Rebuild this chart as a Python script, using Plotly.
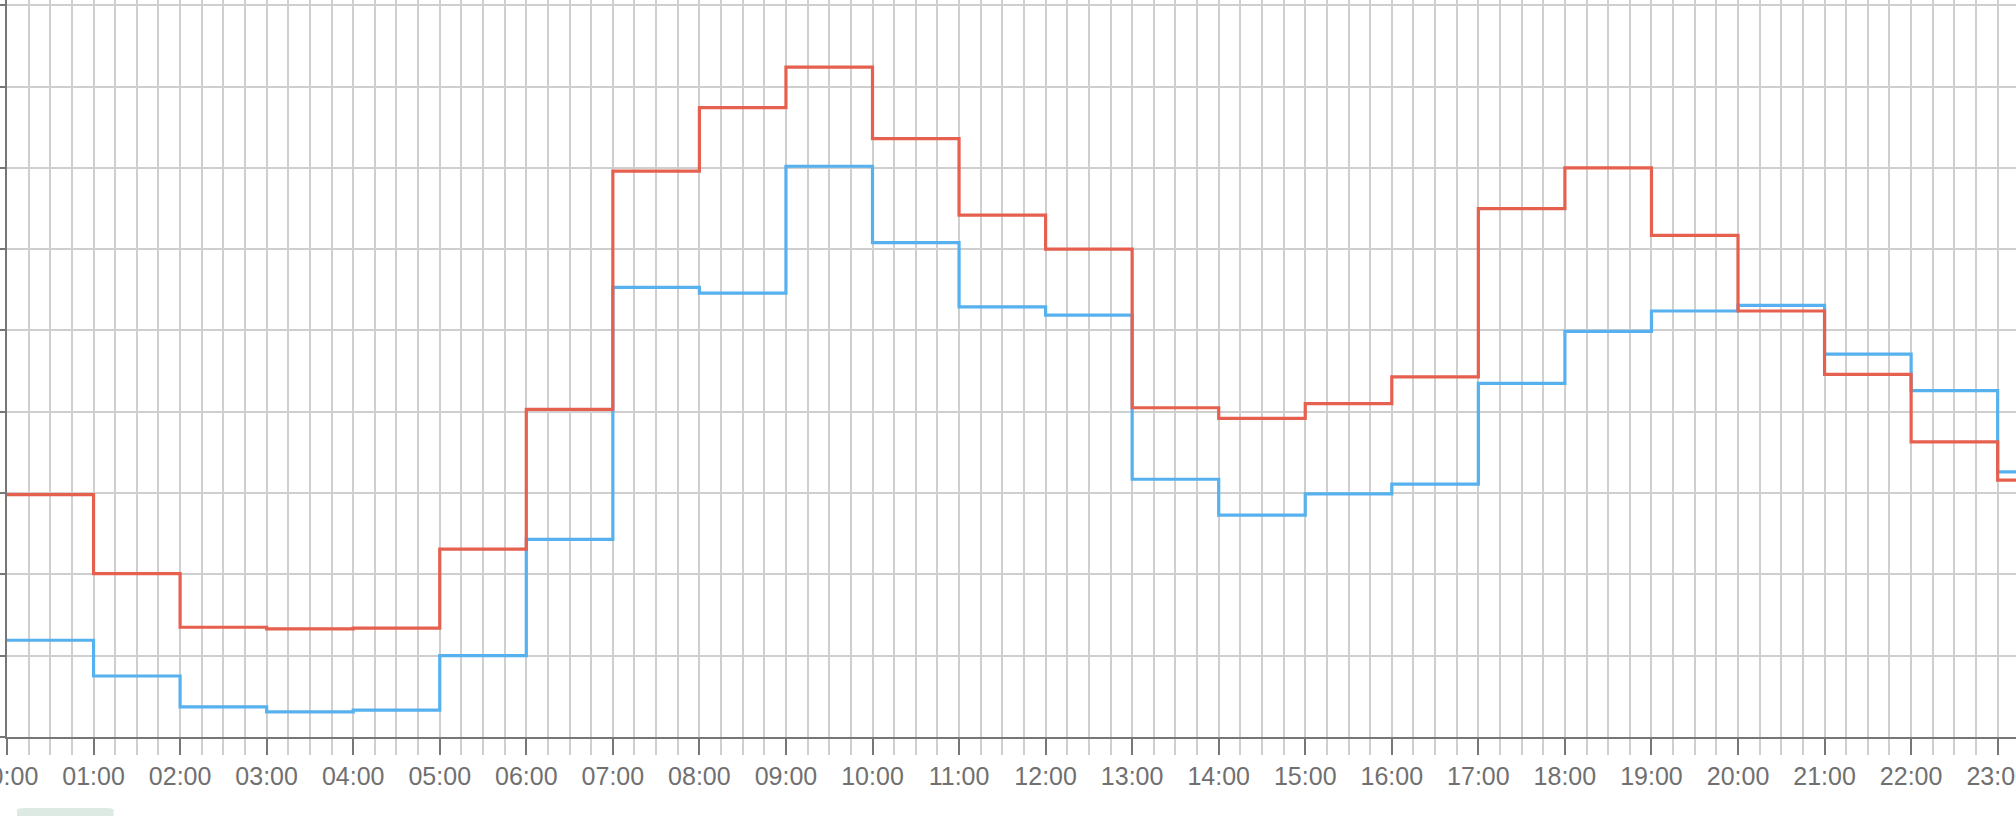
import pandas as pd
import plotly.graph_objects as go

# hourly buckets (start of each hour) plus the closing edge of the last bucket
hours = [f"{h:02d}:00" for h in range(24)]
day = "2024-01-01"
end_edge = "2024-01-02 00:00"

red_values = [29.8, 20.1, 13.5, 13.3, 13.4, 23.1, 40.3, 69.6, 77.4, 82.4, 73.6, 64.2,
              60.0, 40.5, 39.2, 41.0, 44.3, 65.0, 70.0, 61.7, 52.4, 44.6, 36.3, 31.6]
blue_values = [11.9, 7.5, 3.7, 3.1, 3.3, 10.0, 24.3, 55.3, 54.6, 70.2, 60.8, 52.9,
               51.9, 31.7, 27.3, 29.9, 31.1, 43.5, 49.9, 52.4, 53.1, 47.1, 42.6, 32.6]

x = list(pd.to_datetime([f"{day} {h}" for h in hours])) + [pd.Timestamp(end_edge)]

RED = "#E5604F"
BLUE = "#57B1EE"
GRID = "#CFCFCF"
AXIS = "#777777"

fig = go.Figure()

# blue first so the red line sits on top where they overlap
fig.add_trace(go.Scatter(
    x=x, y=blue_values + [blue_values[-1]],
    mode="lines", line=dict(color=BLUE, width=3.2, shape="hv"),
    name="B", hovertemplate="%{x|%H:%M}<br>%{y}<extra></extra>",
))
fig.add_trace(go.Scatter(
    x=x, y=red_values + [red_values[-1]],
    mode="lines", line=dict(color=RED, width=3.2, shape="hv"),
    name="A", hovertemplate="%{x|%H:%M}<br>%{y}<extra></extra>",
))

fig.update_layout(
    width=2016,
    height=816,
    margin=dict(l=7, r=0, t=0, b=79, autoexpand=False),
    plot_bgcolor="white",
    paper_bgcolor="white",
    showlegend=False,
    font=dict(family="Liberation Sans, Arial, sans-serif", color="#707070", size=25),
    xaxis=dict(
        type="date",
        range=[f"{day} 00:00", f"{day} 23:12:43"],
        dtick=3600000,
        tick0=f"{day} 00:00",
        tickformat="%H:%M",
        ticklabeloverflow="allow",
        automargin=False,
        showgrid=True,
        gridcolor=GRID,
        gridwidth=1.5,
        ticks="outside",
        ticklen=16,
        tickwidth=2,
        tickcolor=AXIS,
        showline=True,
        linecolor=AXIS,
        linewidth=2,
        zeroline=False,
        minor=dict(
            dtick=900000,
            showgrid=True,
            gridcolor=GRID,
            gridwidth=1.5,
            ticks="outside",
            ticklen=16,
            tickwidth=1.5,
            tickcolor=GRID,
        ),
        fixedrange=True,
    ),
    yaxis=dict(
        range=[0, 90.65],
        dtick=10,
        automargin=False,
        showgrid=True,
        gridcolor=GRID,
        gridwidth=1.5,
        ticks="outside",
        ticklen=7,
        tickwidth=2,
        tickcolor=AXIS,
        showticklabels=False,
        showline=True,
        linecolor=AXIS,
        linewidth=2,
        zeroline=False,
        fixedrange=True,
    ),
)

# partly visible rounded button under the axis (bottom-left)
fig.add_shape(
    type="path",
    xref="paper", yref="paper",
    path="M 0.005,-0.115 L 0.005,-0.0995 Q 0.005,-0.0965 0.009,-0.0965 "
         "L 0.049,-0.0965 Q 0.053,-0.0965 0.053,-0.0995 L 0.053,-0.115 Z",
    fillcolor="#DCEAE3",
    line=dict(width=0),
    layer="above",
)

# drop the default body margin so the figure fills the window edge to edge
fig.write_html(
    "out.html",
    config={"displayModeBar": False},
    post_script="document.body.style.margin='0';document.body.style.overflow='hidden';",
)
